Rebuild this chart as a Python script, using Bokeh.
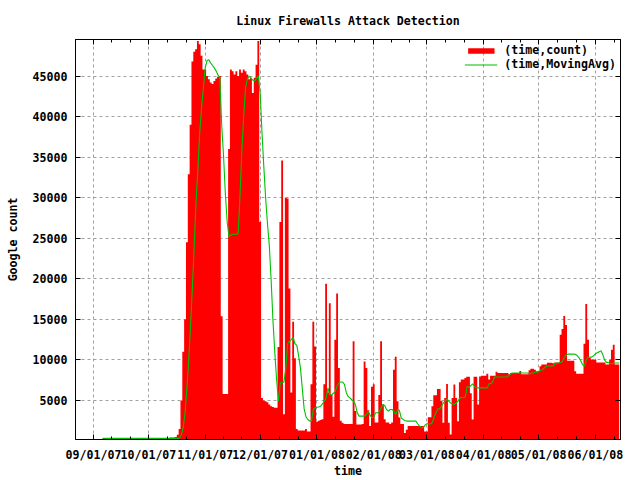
import pandas as pd
from bokeh.plotting import figure
from bokeh.models import (Range1d, FixedTicker, DatetimeTickFormatter, DatetimeAxis,
                          LinearAxis, Legend, LegendItem, ColumnDataSource,
                          CustomJSTickFormatter)
from bokeh.embed import file_html
from bokeh.resources import INLINE

# ---------------- data ----------------
title_text = "Linux Firewalls Attack Detection"
x_label = "time"
y_label = "Google count"
series_names = ["(time,count)", "(time,MovingAvg)"]

tick_dates = ["2007-09-01", "2007-10-01", "2007-11-01", "2007-12-01", "2008-01-01",
              "2008-02-01", "2008-03-01", "2008-04-01", "2008-05-01", "2008-06-01"]
tick_labels = ["09/01/07", "10/01/07", "11/01/07", "12/01/07", "01/01/08",
               "02/01/08", "03/01/08", "04/01/08", "05/01/08", "06/01/08"]
y_ticks = [5000, 10000, 15000, 20000, 25000, 30000, 35000, 40000, 45000]

first_day = "2007-09-06"   # one value per day from here

counts = [
    350, 350, 350, 350, 100, 100, 100, 100, 100, 100,
    100, 100, 100, 100, 100, 100, 100, 100, 100, 100,
    100, 100, 100, 100, 100, 100, 100, 100, 100, 100,
    100, 100, 100, 100, 100, 100, 100, 450, 450, 450,
    500, 800, 1500, 5000, 11000, 15000, 24500, 32900, 39000, 46800,
    48000, 48300, 49300, 48900, 47500, 45800, 45800, 45000, 44600, 44200,
    44000, 44400, 44700, 44900, 45000, 15400, 5800, 5800, 5800, 36000,
    45800, 45600, 45200, 45600, 45000, 45800, 45400, 45800, 45600, 45200,
    44600, 44800, 42900, 44800, 46400, 49300, 27000, 5300, 5000, 4900,
    4800, 4500, 4300, 4200, 4100, 4100, 11600, 27000, 34600, 3300,
    30000, 29900, 18800, 6000, 14700, 10200, 1500, 1300, 1300, 1300,
    1300, 1500, 1200, 1200, 7000, 14700, 11650, 2400, 2500, 2600,
    2700, 7000, 19400, 6000, 17000, 5700, 3000, 12500, 18200, 9000,
    2500, 2250, 2100, 2100, 2100, 2100, 2100, 12300, 3700, 2050,
    2050, 2050, 2100, 9800, 9000, 3800, 1850, 6700, 7000, 2300,
    2300, 5700, 12300, 4500, 2700, 2300, 2300, 2100, 2300, 8800,
    10400, 4900, 2900, 2100, 2100, 1000, 1400, 1850, 1850, 1850,
    1850, 1850, 1850, 1850, 1850, 1850, 1200, 1200, 2950, 2950,
    4300, 5650, 5650, 6430, 6430, 4950, 2260, 5330, 7050, 2260,
    830, 5330, 6970, 5330, 2450, 7250, 7580, 7580, 7780, 7930,
    7930, 5900, 2660, 7930, 7930, 4500, 7980, 8060, 8060, 8060,
    8300, 7580, 8060, 8060, 8060, 8560, 8400, 8400, 8400, 8400,
    8400, 8400, 8230, 8400, 8400, 8400, 8400, 8400, 8640, 8230,
    8230, 8230, 8230, 8720, 8930, 8930, 8800, 8600, 8600, 9220,
    9430, 9430, 9430, 9660, 9660, 9660, 9600, 9700, 9700, 9700,
    13100, 13830, 15430, 14320, 9900, 9900, 9900, 9900, 8600, 8310,
    8310, 8310, 8310, 12000, 16900, 12500, 10230, 10020, 10020, 10020,
    9700, 9700, 9700, 9700, 9700, 9430, 9430, 10020, 11250, 11870,
    9430, 9430, 9430,
]

moving_avg = [
    340, 340, 340, 340, 340, 340, 340, 340, 340, 340,
    340, 340, 340, 340, 340, 340, 340, 340, 340, 340,
    340, 340, 340, 340, 340, 340, 340, 340, 340, 340,
    340, 340, 340, 340, 340, 340, 340, 340, 340, 340,
    340, 340, 340, 830, 1650, 3500, 6550, 10000, 14300, 18900,
    24100, 29500, 33500, 38000, 41000, 43500, 46000, 46900, 47000, 46600,
    46300, 46000, 45600, 45100, 44800, 39000, 35200, 30500, 27000, 25200,
    25400, 25500, 25500, 25500, 25600, 30300, 35800, 40000, 43500, 44600,
    45000, 44700, 44500, 44400, 44700, 45000, 42900, 38000, 33800, 29900,
    26800, 24100, 19800, 14800, 10900, 7500, 4920, 7200, 7200, 7300,
    9000, 12000, 12300, 12500, 12800, 12000, 11800, 10500, 9000, 6500,
    4000, 3000, 2670, 2500, 2460, 3900, 4100, 4180, 4200, 4300,
    4590, 4920, 5330, 6550, 5700, 5700, 5900, 6100, 6800, 7200,
    7290, 7290, 7000, 6000, 5500, 5330, 5100, 4900, 4500, 3490,
    3080, 3080, 3080, 3080, 3280, 3690, 3200, 2870, 2950, 3490,
    3490, 3600, 4100, 4500, 4400, 3900, 3700, 3900, 3900, 3690,
    3280, 3900, 3800, 2870, 2670, 2550, 2470, 2470, 2470, 2470,
    2470, 2470, 2140, 1850, 1700, 1650, 1970, 2140, 2140, 2100,
    2300, 3000, 3500, 3980, 3980, 4300, 4710, 4920, 5210, 4900,
    4700, 4590, 4510, 4700, 4920, 5330, 5350, 5370, 5450, 6760,
    6600, 6840, 7050, 6760, 6560, 6560, 6560, 6560, 6560, 6560,
    6560, 7090, 7090, 7370, 7910, 7910, 7910, 7910, 7910, 7910,
    7910, 7910, 8150, 8350, 8400, 8400, 8400, 8400, 8400, 8400,
    8400, 8400, 8400, 8270, 8400, 8400, 8480, 8480, 8560, 8700,
    8800, 9000, 9210, 9250, 9250, 9270, 9270, 9500, 9620, 9620,
    9700, 9820, 10300, 10600, 10720, 10720, 10720, 10720, 10700, 10550,
    10300, 9900, 9420, 9210, 10000, 10350, 10350, 10350, 10520, 10750,
    10900, 11000, 11150, 10700, 10000, 9700, 9700, 9560, 9540, 9620,
    9620, 9620, 9620,
]

# ---------------- build ----------------
FONT = "DejaVu Sans Mono"
FSIZE = "11.6px"

dates = pd.date_range(first_day, periods=len(counts), freq="D")
src = ColumnDataSource(dict(t=dates, count=counts, avg=moving_avg))

origin = pd.Timestamp(tick_dates[0])
x_start = origin - pd.Timedelta(days=9.8)
x_end = origin + pd.Timedelta(days=287.7)

p = figure(width=640, height=480, x_axis_type="datetime",
           output_backend="svg", toolbar_location=None,
           x_range=Range1d(x_start, x_end), y_range=Range1d(200, 49500),
           title=title_text,
           min_border_left=75, min_border_right=20,
           min_border_top=39, min_border_bottom=40)

p.background_fill_color = "white"
p.border_fill_color = "white"
p.outline_line_color = "black"
p.outline_line_width = 1

p.title.align = "center"
p.title.text_font = FONT
p.title.text_font_style = "bold"
p.title.text_font_size = FSIZE
p.title.text_color = "black"
p.title.standoff = 20
p.title.vertical_align = "top"

bars = p.varea_step(x="t", y1=0, y2="count", step_mode="center", source=src,
                    fill_color="#ff0000")
avg_line = p.line(x="t", y="avg", source=src, line_color="#00c000", line_width=1.1)

major_ms = [pd.Timestamp(s).value // 10**6 for s in tick_dates]
minor_ms = [major_ms[0] - (major_ms[1] - major_ms[0]) / 3]
for a, b in zip(major_ms[:-1], major_ms[1:]):
    minor_ms += [a + (b - a) / 3, a + 2 * (b - a) / 3]
minor_ms.append(major_ms[-1] + (major_ms[-1] - major_ms[-2]) / 3)
xt = FixedTicker(ticks=major_ms, minor_ticks=minor_ms)
yt = FixedTicker(ticks=y_ticks)

fmt = "%m/%d/%y"
xfmt = DatetimeTickFormatter(microseconds=fmt, milliseconds=fmt, seconds=fmt,
                             minsec=fmt, minutes=fmt, hourmin=fmt, hours=fmt,
                             days=fmt, months=fmt, years=fmt)
blank_fmt = CustomJSTickFormatter(code="return '';")


def style_axis(ax, labels=True):
    ax.axis_line_color = "black"
    ax.major_tick_line_color = "black"
    ax.minor_tick_line_color = "black"
    ax.major_tick_in = 5
    ax.major_tick_out = 0
    ax.minor_tick_in = 3
    ax.minor_tick_out = 0
    if labels:
        ax.major_label_text_font = FONT
        ax.major_label_text_font_style = "bold"
        ax.major_label_text_font_size = FSIZE
        ax.major_label_text_color = "black"
        ax.axis_label_text_font = FONT
        ax.axis_label_text_font_style = "bold"
        ax.axis_label_text_font_size = FSIZE
        ax.axis_label_text_color = "black"
    else:
        ax.formatter = blank_fmt
        ax.major_label_standoff = 0


xa = p.xaxis[0]
xa.ticker = xt
xa.formatter = xfmt
xa.axis_label = x_label
style_axis(xa)
xa.major_label_standoff = 8
xa.axis_label_standoff = -1

ya = p.yaxis[0]
ya.ticker = yt
ya.axis_label = y_label
style_axis(ya)
ya.minor_tick_line_color = None
ya.major_label_standoff = 8
ya.axis_label_standoff = 10

top_ax = DatetimeAxis(ticker=xt)
style_axis(top_ax, labels=False)
p.add_layout(top_ax, "above")

right_ax = LinearAxis(ticker=yt)
style_axis(right_ax, labels=False)
right_ax.minor_tick_line_color = None
p.add_layout(right_ax, "right")

for g in (p.xgrid[0], p.ygrid[0]):
    g.grid_line_color = "#a0a0a0"
    g.grid_line_dash = "3 3"
    g.grid_line_width = 1
p.ygrid[0].ticker = yt

legend = Legend(items=[LegendItem(label=series_names[0], renderers=[bars]),
                       LegendItem(label=series_names[1], renderers=[avg_line])],
                location="top_right")
legend.label_text_font = FONT
legend.label_text_font_style = "bold"
legend.label_text_font_size = FSIZE
legend.label_text_color = "black"
legend.glyph_width = 33
legend.glyph_height = 7
legend.label_height = 14
legend.label_standoff = 7
legend.spacing = 0
legend.padding = 2
legend.margin = 4
legend.border_line_color = None
legend.background_fill_alpha = 0
p.add_layout(legend)

open("out.html", "w").write(file_html(p, INLINE))
